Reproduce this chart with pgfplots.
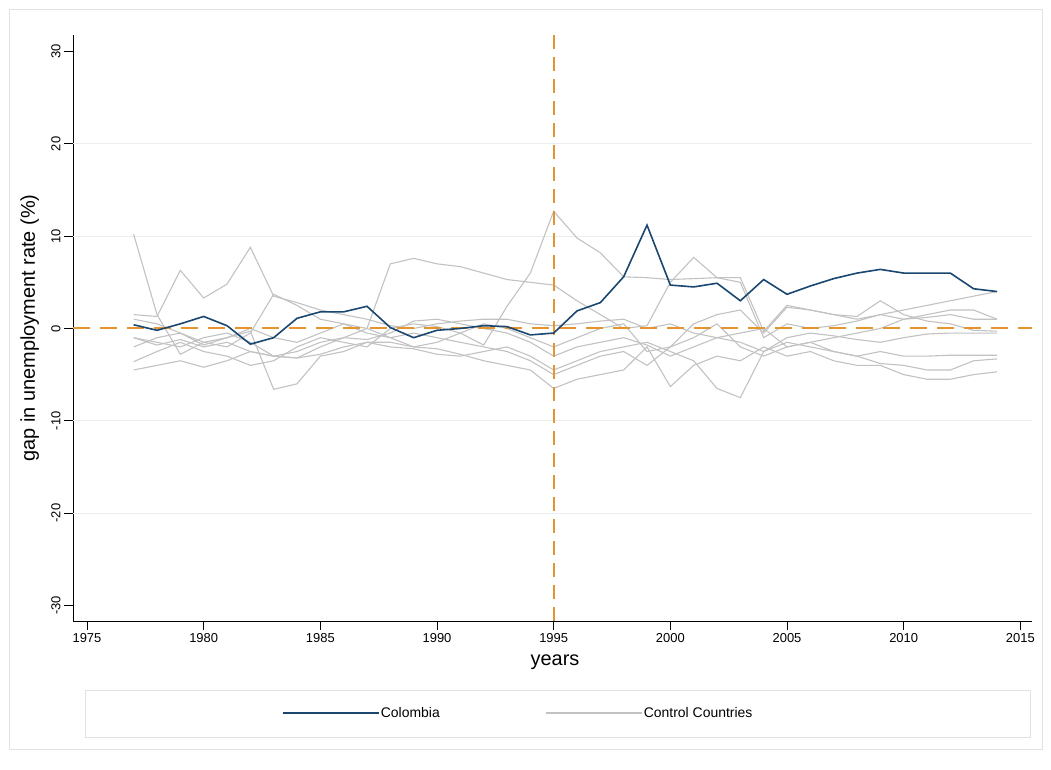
\documentclass[border=0pt]{standalone}
\usepackage{fontspec}
\setmainfont{Liberation Sans}
\usepackage{pgfplots}
\usepackage{pgfplotstable}
\pgfplotsset{compat=1.18}
\definecolor{colnavy}{HTML}{1A476F}
\definecolor{ctrlgray}{HTML}{C2C2C2}
\definecolor{refor}{HTML}{E8942E}
\definecolor{gridc}{HTML}{E9EEF0}
\definecolor{framec}{HTML}{E2E2E2}

\pgfplotstableread{
year col c1 c2 c3 c4 c5 c6 c7 c8
1977 0.4 10.2 1.5 -1.0 -3.6 -4.5 -2.0 1.0 -1.0
1978 -0.2 1.5 1.3 -1.5 -2.5 -4.0 -1.0 0.5 -1.8
1979 0.5 -2.8 6.3 -2.0 -1.5 -3.5 -0.5 -0.5 -1.2
1980 1.3 -1.5 3.3 -1.0 -2.5 -4.2 -1.5 -1.8 -2.0
1981 0.3 -1.0 4.8 -0.5 -3.0 -3.5 -2.0 -1.0 -1.5
1982 -1.7 -0.3 8.8 -1.5 -4.0 -2.5 -0.5 0.0 -2.5
1983 -1.0 -6.6 3.5 -3.0 -3.5 -3.0 3.7 -1.0 -3.0
1984 1.1 -6.0 2.8 -3.2 -2.0 -3.2 2.5 -1.5 -2.5
1985 1.8 -3.0 2.0 -2.0 -1.0 -2.8 1.0 -0.5 -1.5
1986 1.8 -2.5 1.5 -1.0 -1.5 -2.0 0.5 0.5 -1.0
1987 2.4 -1.5 1.0 0.0 -2.0 -1.5 -0.5 0.0 -1.2
1988 0.1 -1.5 0.3 7.0 0.0 -2.0 -1.0 -1.0 -0.5
1989 -1.0 -2.0 0.0 7.6 0.5 -2.2 -0.5 -2.0 0.8
1990 -0.2 -2.2 0.5 7.0 0.2 -2.8 -1.0 -1.5 1.0
1991 0.0 -2.8 0.8 6.7 -0.5 -3.0 -1.5 -0.5 0.5
1992 0.3 -3.5 1.0 6.0 -1.8 -2.5 -2.0 0.5 0.0
1993 0.2 -4.0 1.0 5.3 2.4 -2.0 -2.5 0.0 -0.5
1994 -0.7 -4.5 0.5 5.0 6.0 -3.0 -3.5 -1.0 -1.5
1995 -0.5 -6.5 0.3 4.7 12.7 -4.5 -5.0 -2.0 -3.0
1996 1.9 -5.5 0.5 3.0 9.8 -3.5 -4.0 -1.0 -2.0
1997 2.8 -5.0 0.8 1.5 8.2 -2.5 -3.0 0.0 -1.5
1998 5.6 -4.5 1.0 0.0 5.6 -2.0 -2.5 0.5 -1.0
1999 11.2 -2.0 0.0 0.3 5.5 -1.5 -4.0 -2.5 -1.8
2000 4.7 -6.3 0.5 5.0 5.3 -2.5 -2.0 -2.0 -3.0
2001 4.5 -4.0 -0.5 7.7 5.4 -3.5 -1.0 0.5 -2.0
2002 4.9 -3.0 -1.0 5.5 5.5 -6.5 0.5 1.5 -1.0
2003 3.0 -3.5 -1.5 5.0 5.5 -7.5 -2.0 2.0 -0.5
2004 5.3 -2.0 -2.5 -1.0 -0.3 -2.5 -3.0 -0.5 0.0
2005 3.7 -3.0 -1.0 0.5 2.5 -1.5 -2.0 2.3 -2.0
2006 4.6 -2.5 -0.5 0.0 2.0 -2.0 -1.5 2.0 -1.5
2007 5.4 -3.5 -0.8 0.3 1.5 -2.5 -2.5 1.5 -1.0
2008 6.0 -4.0 -1.2 0.8 1.0 -3.0 -3.0 1.3 -0.5
2009 6.4 -4.0 -1.5 1.5 1.5 -3.8 -2.5 3.0 0.0
2010 6.0 -5.0 -1.0 2.0 1.0 -4.0 -3.0 1.5 1.0
2011 6.0 -5.5 -0.6 2.5 1.2 -4.5 -3.0 0.8 1.5
2012 6.0 -5.5 -0.5 3.0 1.5 -4.5 -2.9 0.5 2.0
2013 4.3 -5.0 -0.5 3.5 1.0 -3.5 -2.9 -0.2 2.0
2014 4.0 -4.7 -0.5 4.0 1.0 -3.3 -2.9 -0.3 1.0
}\data

\begin{document}
\begin{tikzpicture}
\useasboundingbox (0,0) rectangle (1051bp,770bp);
\draw[framec, line width=0.8bp] (9bp,21bp) rectangle (1042bp,761bp);
\draw[framec, line width=0.8bp] (85bp,33bp) rectangle (1030bp,80bp);
\begin{axis}[
  at={(73bp,149bp)}, anchor=south west,
  scale only axis, width=959bp, height=586bp,
  xmin=1974.4, xmax=2015.5, ymin=-31.7, ymax=31.8,
  axis lines*=left, axis line style={-, black, line width=1bp},
  tick align=outside, major tick length=9bp,
  tick style={black, line width=1bp},
  xtick={1975,1980,...,2015},
  xticklabels={1975,1980,1985,1990,1995,2000,2005,2010,2015},
  ytick={-30,-20,...,30},
  yticklabels={-30,-20,-10,0,10,20,30},
  extra y ticks={-20,-10,10,20},
  extra y tick labels={},
  extra y tick style={ymajorgrids=true, major tick length=0pt, major grid style={gridc, line width=1bp}},
  ticklabel style={font=\fontsize{13}{13}\selectfont},
  yticklabel style={rotate=90, anchor=south},
  xlabel={years}, ylabel={gap in unemployment rate (\%)},
  xlabel style={font=\fontsize{20}{20}\selectfont, at={(axis description cs:0.5026,-0.07)}, anchor=center},
  ylabel style={font=\fontsize{20}{20}\selectfont, at={(axis description cs:-0.045,0.5)}, anchor=center},
  clip=false,
  legend columns=2,
  legend image code/.code={\draw[#1] (0bp,0bp) -- (96bp,0bp);},
  legend style={at={(axis description cs:0.218,-0.157)}, anchor=west, draw=none, fill=none,
    inner sep=0pt, font=\fontsize{14}{14}\selectfont,
    nodes={inner xsep=1bp},
    /tikz/every even column/.append style={column sep=105bp}},
]
\addplot[ctrlgray, line width=1.1bp, forget plot] table[x=year, y=c1] {\data};
\addplot[ctrlgray, line width=1.1bp, forget plot] table[x=year, y=c2] {\data};
\addplot[ctrlgray, line width=1.1bp, forget plot] table[x=year, y=c3] {\data};
\addplot[ctrlgray, line width=1.1bp, forget plot] table[x=year, y=c4] {\data};
\addplot[ctrlgray, line width=1.1bp, forget plot] table[x=year, y=c5] {\data};
\addplot[ctrlgray, line width=1.1bp, forget plot] table[x=year, y=c6] {\data};
\addplot[ctrlgray, line width=1.1bp, forget plot] table[x=year, y=c7] {\data};
\addplot[ctrlgray, line width=1.1bp, forget plot] table[x=year, y=c8] {\data};
\addplot[draw=refor, line width=2bp, dash pattern=on 17bp off 10bp, forget plot] coordinates {(1974.4,0) (2015.5,0)};
\addplot[draw=refor, line width=2bp, dash pattern=on 14bp off 8bp, forget plot] coordinates {(1995,-31.7) (1995,31.8)};
\addplot[colnavy, line width=1.6bp, forget plot] table[x=year, y=col] {\data};
\addlegendimage{colnavy, line width=1.6bp}
\addlegendentry{Colombia}
\addlegendimage{ctrlgray, line width=1.1bp}
\addlegendentry{Control Countries}
\end{axis}
\end{tikzpicture}
\end{document}
